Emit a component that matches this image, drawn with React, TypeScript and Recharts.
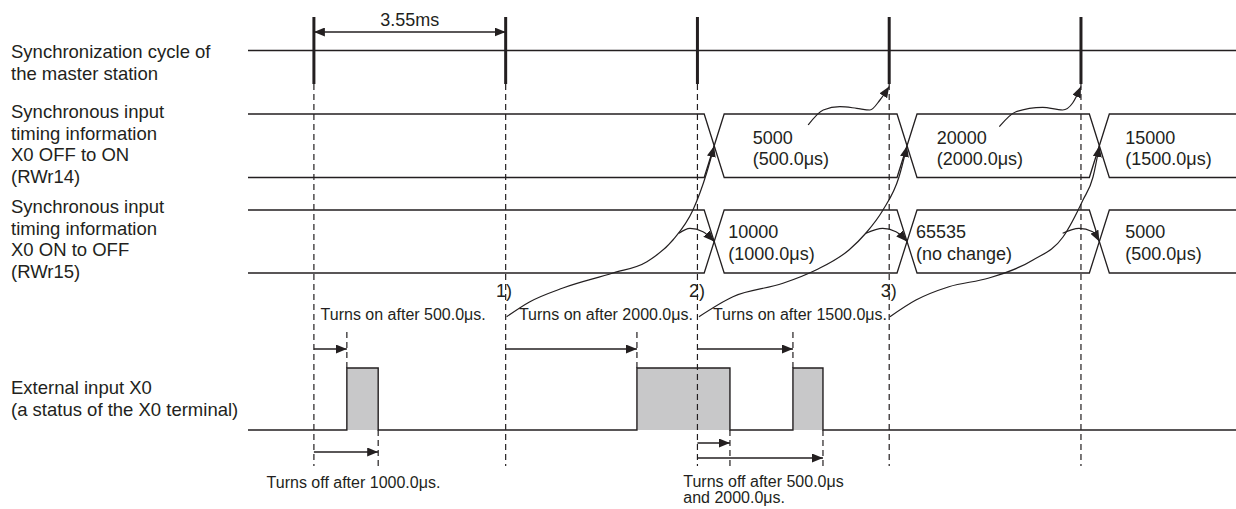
import React from 'react'
import { ComposedChart, Line, XAxis, YAxis, Scatter, ReferenceArea } from 'recharts'

// time axis in µs, first sync pulse of the master station at t = 0
const syncTimes = [0, 3550, 7100, 10650, 14200]
const busChanges = [7410, 10980, 14540]
const busEdge = 185
const x0Rise = [610, 5980, 8868]
const x0Fall = [1190, 7702, 9424]
const tStart = -1220
const tEnd = 17070

// signal levels (arbitrary vertical units, 0 = bottom of the picture)
const masterLevel = 45.85
const pulseTop = 49.2
const pulseBottom = 42.5
const rw14High = 39.5
const rw14Low = 33.15
const rw15High = 29.9
const rw15Low = 23.6
const x0High = 14.1
const x0Low = 7.9
const guideBottom = 4.3
const edgeGuideTop = 17.7
const dimLevel = 47.7
const onArrowLevel = 16.0

const onArrows = [
  [0, 610],
  [3550, 5980],
  [7100, 8868],
]
const offArrows = [
  [0, 1190, 5.7],
  [7100, 7702, 6.6],
  [7100, 9424, 5.1],
]

// curves from 1) 2) 3) to the RWr14 change point
const riseCurves = [
  [[3568, 19.23], [3999, 20.73], [4610, 22.1], [5536, 23.6], [6165, 24.73], [6646, 26.9], [7017, 29.9], [7270, 33.6], [7410, 36.3]],
  [[7128, 19.23], [7757, 21.23], [8683, 22.57], [9294, 23.9], [9905, 25.9], [10220, 27.6], [10535, 29.9], [10831, 33.2], [10980, 36.3]],
  [[10664, 19.23], [11145, 20.9], [11756, 22.23], [12497, 23.1], [13312, 24.9], [13867, 27.2], [14237, 30.9], [14423, 33.2], [14540, 36.3]],
]
// short branches to the RWr15 change point
const fallCurves = [
  [[6758, 27.57], [6961, 28.07], [7202, 27.73], [7410, 26.75]],
  [[10220, 27.57], [10529, 28.07], [10775, 27.73], [10980, 26.75]],
  [[13861, 27.57], [14163, 28.07], [14417, 27.73], [14540, 26.75]],
]
// from RWr14 value to the next sync pulse
const syncCurves = [
  [[9151, 38.4], [9429, 39.9], [9738, 40.23], [10048, 40.07], [10294, 39.9], [10479, 40.9], [10650, 42.25]],
  [[12688, 38.23], [12997, 39.73], [13491, 40.17], [13861, 39.9], [14046, 40.6], [14200, 42.25]],
]

const rowLabels = [
  { y: 45.07, lines: ['Synchronization cycle of', 'the master station'] },
  { y: 39.07, lines: ['Synchronous input', 'timing information', 'X0 OFF to ON', '(RWr14)'] },
  { y: 29.57, lines: ['Synchronous input', 'timing information', 'X0 ON to OFF', '(RWr15)'] },
  { y: 11.5, lines: ['External input X0', '(a status of the X0 terminal)'] },
]

const rw14Values = [
  { t: 8122, text: ['5000', '(500.0μs)'] },
  { t: 11529, text: ['20000', '(2000.0μs)'] },
  { t: 15021, text: ['15000', '(1500.0μs)'] },
]
const rw14ValueY = 36.46
const rw15Values = [
  { t: 7671, text: ['10000', '(1000.0μs)'] },
  { t: 11145, text: ['65535', '(no change)'] },
  { t: 15021, text: ['5000', '(500.0μs)'] },
]
const rw15ValueY = 27.07

const centerNotes = [
  { t: 1775, y: 48.3, text: ['3.55ms'] },
  { t: 3520, y: 21.2, text: ['1)'] },
  { t: 7090, y: 21.2, text: ['2)'] },
  { t: 10640, y: 21.2, text: ['3)'] },
]
const startNotes = [
  { t: 124, y: 18.95, text: ['Turns on after 500.0μs.'] },
  { t: -876, y: 2.13, text: ['Turns off after 1000.0μs.'] },
  { t: 6838, y: 2.23, text: ['Turns off after 500.0μs', 'and 2000.0μs.'] },
]
const endNotes = [
  { t: 7017, y: 18.95, text: ['Turns on after 2000.0μs.'] },
  { t: 10609, y: 18.95, text: ['Turns on after 1500.0μs.'] },
]

const INK = '#231f20'
const FONT = '"Liberation Sans", Arial, sans-serif'

const pts = (arr: number[][]) => arr.map(([t, y]) => ({ t, y }))

function busPath(high: number, low: number, startHigh: boolean) {
  let level = startHigh ? high : low
  const out = [{ t: tStart, y: level }]
  busChanges.forEach((c) => {
    out.push({ t: c - busEdge, y: level })
    level = level === high ? low : high
    out.push({ t: c + busEdge, y: level })
  })
  out.push({ t: tEnd, y: level })
  return out
}

function x0Path() {
  const out = [{ t: tStart, y: x0Low }]
  x0Rise.forEach((r, i) => {
    out.push({ t: r, y: x0Low }, { t: r, y: x0High }, { t: x0Fall[i], y: x0High }, { t: x0Fall[i], y: x0Low })
  })
  out.push({ t: tEnd, y: x0Low })
  return out
}

const textShape = (size: number, anchor: string, lineHeight: number) => (props: any) => {
  const { cx, cy, payload } = props
  return (
    <text x={cx} y={cy} fontSize={size} textAnchor={anchor} fill={INK} fontFamily={FONT}>
      {payload.text.map((s: string, i: number) => (
        <tspan key={i} x={cx} dy={i === 0 ? 0 : lineHeight}>
          {s}
        </tspan>
      ))}
    </text>
  )
}

const RowLabel = (props: any) => {
  const { y, payload } = props
  const row = rowLabels.find((r) => Math.abs(r.y - payload.value) < 1e-6)
  if (!row) return null
  return (
    <text x={11} y={y} fontSize={18.5} fill={INK} fontFamily={FONT}>
      {row.lines.map((s, i) => (
        <tspan key={i} x={11} dy={i === 0 ? 0 : 21.5}>
          {s}
        </tspan>
      ))}
    </text>
  )
}

export default function App() {
  let k = 0
  const seg = (data: any[], extra: any = {}) => (
    <Line
      key={`l${k++}`}
      data={data}
      dataKey="y"
      type="linear"
      stroke={INK}
      strokeWidth={1.3}
      dot={false}
      activeDot={false}
      isAnimationActive={false}
      {...extra}
    />
  )
  const dashed = { strokeDasharray: '6 4', strokeWidth: 1.2 }

  return (
    <div style={{ position: 'fixed', left: 0, top: 0, background: '#fff' }}>
      <ComposedChart width={1236} height={509} margin={{ top: 0, right: 0, bottom: 0, left: 0 }}>
        <defs>
          <marker id="arrowHead" viewBox="0 0 11 9" refX="11" refY="4.5" markerWidth="11" markerHeight="9" markerUnits="userSpaceOnUse" orient="auto-start-reverse">
            <path d="M0,0 L11,4.5 L0,9 z" fill={INK} />
          </marker>
        </defs>
        <XAxis type="number" dataKey="t" domain={[tStart, tEnd]} hide allowDataOverflow />
        <YAxis
          type="number"
          dataKey="y"
          domain={[0, 50.9]}
          width={248}
          ticks={rowLabels.map((r) => r.y)}
          interval={0}
          axisLine={false}
          tickLine={false}
          tick={<RowLabel />}
          allowDataOverflow
        />
        {x0Rise.map((r, i) => (
          <ReferenceArea key={`p${i}`} x1={r} x2={x0Fall[i]} y1={x0Low} y2={x0High} fill="#c8c8c9" fillOpacity={1} stroke="none" />
        ))}

        {seg(pts([[tStart, masterLevel], [tEnd, masterLevel]]), { strokeWidth: 1.5 })}
        {syncTimes.map((t) => seg(pts([[t, pulseTop], [t, pulseBottom]]), { strokeWidth: 3 }))}
        {syncTimes.map((t) => seg(pts([[t, pulseBottom], [t, guideBottom]]), dashed))}
        {x0Rise.map((t) => seg(pts([[t, edgeGuideTop], [t, x0High]]), dashed))}
        {x0Fall.map((t) => seg(pts([[t, x0Low], [t, guideBottom]]), dashed))}

        {seg(busPath(rw14High, rw14Low, true))}
        {seg(busPath(rw14High, rw14Low, false))}
        {seg(busPath(rw15High, rw15Low, true))}
        {seg(busPath(rw15High, rw15Low, false))}
        {seg(x0Path(), { strokeWidth: 1.4 })}

        {seg(pts([[syncTimes[0], dimLevel], [syncTimes[1], dimLevel]]), { markerStart: 'url(#arrowHead)', markerEnd: 'url(#arrowHead)' })}
        {onArrows.map(([a, b]) => seg(pts([[a, onArrowLevel], [b, onArrowLevel]]), { markerEnd: 'url(#arrowHead)' }))}
        {offArrows.map(([a, b, y]) => seg(pts([[a, y], [b, y]]), { markerEnd: 'url(#arrowHead)' }))}

        {riseCurves.map((c) => seg(pts(c), { type: 'monotone', strokeWidth: 1.2, markerEnd: 'url(#arrowHead)' }))}
        {fallCurves.map((c) => seg(pts(c), { type: 'monotone', strokeWidth: 1.2, markerEnd: 'url(#arrowHead)' }))}
        {syncCurves.map((c) => seg(pts(c), { type: 'monotone', strokeWidth: 1.2, markerEnd: 'url(#arrowHead)' }))}

        <Scatter data={rw14Values.map((v) => ({ ...v, y: rw14ValueY }))} shape={textShape(18, 'start', 21)} isAnimationActive={false} />
        <Scatter data={rw15Values.map((v) => ({ ...v, y: rw15ValueY }))} shape={textShape(18, 'start', 21.5)} isAnimationActive={false} />
        <Scatter data={centerNotes} shape={textShape(18, 'middle', 21)} isAnimationActive={false} />
        <Scatter data={startNotes} shape={textShape(16, 'start', 16.6)} isAnimationActive={false} />
        <Scatter data={endNotes} shape={textShape(16, 'end', 16.6)} isAnimationActive={false} />
      </ComposedChart>
    </div>
  )
}
